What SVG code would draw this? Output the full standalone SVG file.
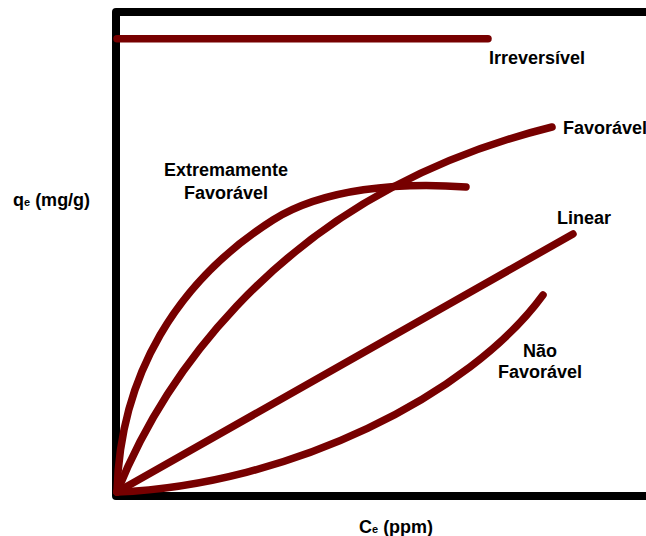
<svg xmlns="http://www.w3.org/2000/svg" width="646" height="536" viewBox="0 0 646 536">
<style>
.axis{fill:none;stroke:#000;stroke-width:8;stroke-linejoin:round;stroke-linecap:butt}
.curve{fill:none;stroke:#770000;stroke-width:7.5;stroke-linecap:round;stroke-linejoin:round}
.lbl{font-family:"Liberation Sans",Arial,sans-serif;font-weight:bold;font-size:18px;fill:#000}
.sub{font-size:11px}
</style>
<rect width="646" height="536" fill="#fff"/>
<g id="axes">
<path class="axis" d="M650,12 L116,12 L116,496 L650,496"/>
</g>
<g id="connectors">
<path id="irreversivel-curve" class="curve" d="M117,38.8 L488,38.8"/>
<path id="extremamente-curve" class="curve" d="M117,492 C120,375 177,281 273,220 C323,188.5 400,182 466,187"/>
<path id="favoravel-curve" class="curve" d="M117,492 C150,410 258,200 552,127"/>
<path id="linear-curve" class="curve" d="M117,492 L573,234"/>
<path id="nao-favoravel-curve" class="curve" d="M117,492 C290,485 470,395 543,295"/>
</g>
<g id="label-irreversivel"><text class="lbl" x="489" y="64">Irreversível</text></g>
<g id="label-favoravel"><text class="lbl" x="563" y="134">Favorável</text></g>
<g id="label-extremamente"><text class="lbl" x="226" y="176" text-anchor="middle">Extremamente</text><text class="lbl" x="226" y="199" text-anchor="middle">Favorável</text></g>
<g id="label-linear"><text class="lbl" x="557" y="224">Linear</text></g>
<g id="label-nao-favoravel"><text class="lbl" x="540" y="357" text-anchor="middle">Não</text><text class="lbl" x="540" y="378" text-anchor="middle">Favorável</text></g>
<g id="label-y"><text class="lbl" x="13" y="206">q<tspan class="sub">e</tspan> (mg/g)</text></g>
<g id="label-x"><text class="lbl" x="359" y="533">C<tspan class="sub">e</tspan> (ppm)</text></g>
</svg>
